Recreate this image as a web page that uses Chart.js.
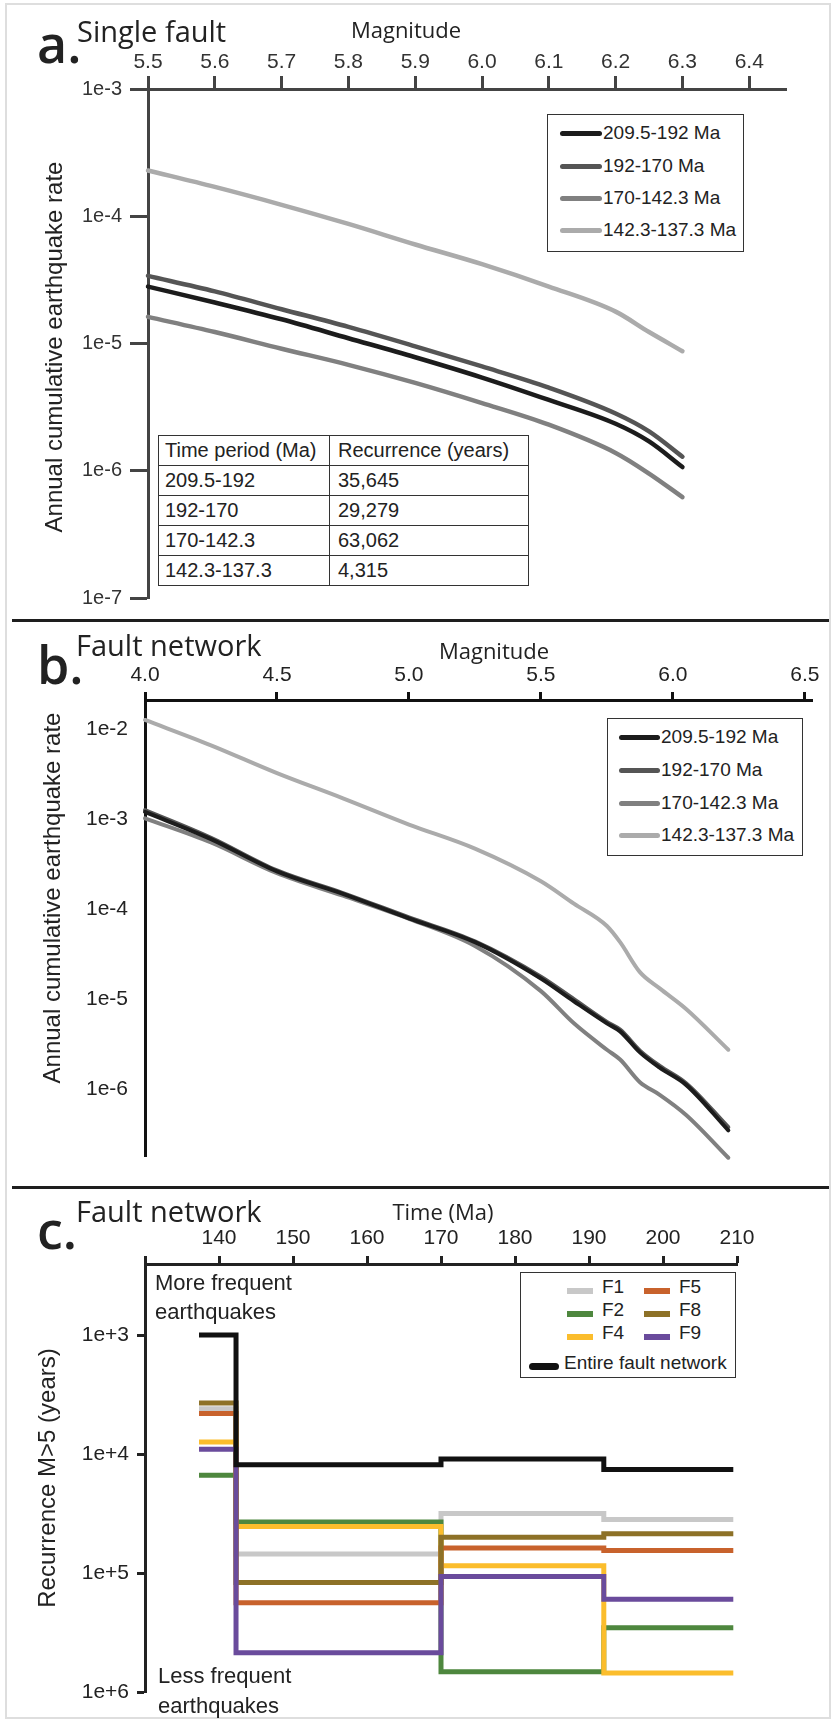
<!DOCTYPE html>
<html>
<head>
<meta charset="utf-8">
<script src="https://cdn.jsdelivr.net/npm/chart.js@4.4.1/dist/chart.umd.min.js"></script>
<style>
  body { margin: 0; background: #fff; }
  #page { position: relative; width: 833px; height: 1721px; overflow: hidden; background: #fff;
          font-family: "Liberation Sans", Arial, sans-serif; color: #222; }
  canvas { position: absolute; left: 0; }
  .frame { position: absolute; left: 5px; top: 3px; width: 826px; height: 1716px; border: 2px solid #dedede; box-sizing: border-box; }
  .sep { position: absolute; left: 12px; width: 817px; height: 3px; background: #1e1e1e; }
  .legend { position: absolute; border: 1.5px solid #333; background: #fff; box-sizing: border-box; }
  .item { position: absolute; display: flex; align-items: center; font-size: 19px; white-space: nowrap; height: 24px; }
  .item .ln { height: 5px; border-radius: 3px; margin-right: 1px; }
  .sw { position: absolute; height: 6px; }
  .lbl { position: absolute; font-size: 19px; line-height: 24px; white-space: nowrap; }
  table.rec { position: absolute; left: 158px; top: 435px; border-collapse: collapse; background: #fff; font-size: 20px; }
  table.rec td { border: 1.5px solid #333; height: 29px; padding: 0 6px 0 6px; white-space: nowrap; }
  table.rec td:first-child { width: 158px; }
  table.rec td:last-child { width: 184px; padding-left: 8px; }
</style>
</head>
<body>
<div id="page">
  <div class="frame"></div>
  <canvas id="chartA" width="833" height="619" style="top:0"></canvas>
  <div class="sep" style="top:619px"></div>
  <canvas id="chartB" width="833" height="564" style="top:622px"></canvas>
  <div class="sep" style="top:1186px"></div>
  <canvas id="chartC" width="833" height="532" style="top:1189px"></canvas>

  <div id="legendA" class="legend" style="left:547px; top:114px; width:197px; height:138px"></div>
  <div id="legendB" class="legend" style="left:607px; top:718px; width:196px; height:138px"></div>
  <div id="legendC" class="legend" style="left:520px; top:1272px; width:216px; height:106px"></div>
  <table class="rec" id="tableA"></table>
</div>
<script>
// ---------- panel a: single fault ----------
const magA = [5.5, 5.6, 5.7, 5.8, 5.9, 6.0, 6.1, 6.2, 6.25, 6.3];
const magTicksA = [5.5, 5.6, 5.7, 5.8, 5.9, 6.0, 6.1, 6.2, 6.3, 6.4];
const rateTicksA = [1e-7, 1e-6, 1e-5, 1e-4, 1e-3];
const rateTickLabelsA = ['1e-7', '1e-6', '1e-5', '1e-4', '1e-3'];
const rateA_209_192 = [2.8e-5, 2.1e-5, 1.55e-5, 1.1e-5, 7.8e-6, 5.4e-6, 3.6e-6, 2.34e-6, 1.7e-6, 1.07e-6];
const rateA_192_170 = [3.4e-5, 2.57e-5, 1.86e-5, 1.35e-5, 9.5e-6, 6.6e-6, 4.5e-6, 2.82e-6, 2.04e-6, 1.29e-6];
const rateA_170_142 = [1.62e-5, 1.23e-5, 9.1e-6, 6.8e-6, 4.9e-6, 3.4e-6, 2.3e-6, 1.38e-6, 9.5e-7, 6.2e-7];
const rateA_142_137 = [2.29e-4, 1.7e-4, 1.23e-4, 8.7e-5, 6.0e-5, 4.2e-5, 2.8e-5, 1.78e-5, 1.23e-5, 8.7e-6];
const tablePeriods = ['209.5-192', '192-170', '170-142.3', '142.3-137.3'];
const tableRecurrence = ['35,645', '29,279', '63,062', '4,315'];

// ---------- panel b: fault network ----------
const magB = [4.0, 4.25, 4.5, 4.75, 5.0, 5.25, 5.5, 5.625, 5.75, 5.8, 5.875, 5.95, 6.05, 6.21];
const magTicksB = [4.0, 4.5, 5.0, 5.5, 6.0, 6.5];
const rateTicksB = [1e-6, 1e-5, 1e-4, 1e-3, 1e-2];
const rateTickLabelsB = ['1e-6', '1e-5', '1e-4', '1e-3', '1e-2'];
const rateB_209_192 = [1.2e-3, 6.0e-4, 2.63e-4, 1.48e-4, 7.9e-5, 4.3e-5, 1.7e-5, 9.5e-6, 5.4e-6, 4.4e-6, 2.57e-6, 1.74e-6, 1.12e-6, 3.5e-7];
const rateB_192_170 = [1.26e-3, 6.2e-4, 2.69e-4, 1.51e-4, 8.1e-5, 4.4e-5, 1.78e-5, 1.0e-5, 5.6e-6, 4.6e-6, 2.69e-6, 1.82e-6, 1.17e-6, 3.8e-7];
const rateB_170_142 = [1.02e-3, 5.5e-4, 2.51e-4, 1.41e-4, 7.8e-5, 3.9e-5, 1.23e-5, 5.4e-6, 2.75e-6, 2.14e-6, 1.2e-6, 8.7e-7, 5.2e-7, 1.74e-7];
const rateB_142_137 = [1.26e-2, 6.6e-3, 3.24e-3, 1.7e-3, 8.7e-4, 4.7e-4, 2.04e-4, 1.15e-4, 6.5e-5, 4.3e-5, 2.0e-5, 1.32e-5, 7.8e-6, 2.75e-6];

const periodLabels = ['209.5-192 Ma', '192-170 Ma', '170-142.3 Ma', '142.3-137.3 Ma'];
const periodColors = ['#1c1c1c', '#555555', '#808080', '#ababab'];

// ---------- panel c: recurrence through time ----------
const timeEdges = [137.3, 142.3, 170, 192, 209.5];
const timeTicks = [130, 140, 150, 160, 170, 180, 190, 200, 210];
const timeTickLabels = ['', '140', '150', '160', '170', '180', '190', '200', '210'];
const recTicks = [1e3, 1e4, 1e5, 1e6];
const recTickLabels = ['1e+3', '1e+4', '1e+5', '1e+6'];
const recAll = [1000, 12300, 11000, 13500];
const recF1 = [4170, 69200, 31600, 35500];
const recF2 = [15100, 37200, 676000, 288000];
const recF4 = [7940, 40700, 87100, 692000];
const recF5 = [4570, 178000, 61700, 64600];
const recF8 = [3720, 120000, 50100, 46800];
const recF9 = [9120, 468000, 107000, 166000];

Chart.defaults.font.family = '"Liberation Sans", Arial, sans-serif';
Chart.defaults.color = '#222';

function textPlugin(items) {
  return {
    id: 'panelText',
    afterDraw(chart) {
      const ctx = chart.ctx;
      items.forEach(it => {
        ctx.save();
        ctx.font = it.font;
        ctx.fillStyle = it.color || '#222';
        ctx.textAlign = it.align || 'left';
        ctx.textBaseline = it.baseline || 'alphabetic';
        ctx.translate(it.x, it.y);
        if (it.rotate) ctx.rotate(it.rotate);
        ctx.fillText(it.text, 0, 0);
        ctx.restore();
      });
    }
  };
}

function curves(xs, series) {
  return series.map((vals, i) => ({
    label: periodLabels[i],
    data: vals.map((v, k) => ({ x: xs[k], y: v })),
    borderColor: periodColors[i],
    borderWidth: 4.5,
    borderCapStyle: 'round',
    pointRadius: 0,
    cubicInterpolationMode: 'monotone',
    clip: false
  }));
}

const TITLE = '"Open Sans", "Noto Sans", sans-serif';
const BODY = '"Liberation Sans", Arial, sans-serif';

// panel a
new Chart(document.getElementById('chartA'), {
  type: 'line',
  data: { datasets: curves(magA, [rateA_209_192, rateA_192_170, rateA_170_142, rateA_142_137]) },
  options: {
    responsive: false, animation: false, devicePixelRatio: 1,
    layout: { padding: { left: 0, top: 0, right: 47, bottom: 21 } },
    plugins: { legend: { display: false }, tooltip: { enabled: false } },
    scales: {
      x: {
        type: 'linear', position: 'top', min: 5.5, max: 6.455,
        afterBuildTicks: s => { s.ticks = magTicksA.map(v => ({ value: v })); },
        afterFit: s => { s.height = 89; },
        ticks: { callback: v => v.toFixed(1), padding: 1, color: '#333', font: { size: 21 }, autoSkip: false, maxRotation: 0 },
        grid: { drawOnChartArea: false, tickLength: 13, tickWidth: 3, tickColor: '#444' },
        border: { width: 3, color: '#444' }
      },
      y: {
        type: 'logarithmic', min: 1e-7, max: 1e-3,
        afterBuildTicks: s => { s.ticks = rateTicksA.map(v => ({ value: v })); },
        afterFit: s => { s.width = 148; },
        ticks: { callback: v => rateTickLabelsA[rateTicksA.indexOf(v)], padding: 8, color: '#333', font: { size: 20 }, autoSkip: false },
        grid: { drawOnChartArea: false, tickLength: 18, tickWidth: 3, tickColor: '#444' },
        border: { width: 3, color: '#444' }
      }
    }
  },
  plugins: [textPlugin([
    { text: 'a.', x: 37, y: 63, font: '600 52px ' + TITLE },
    { text: 'Single fault', x: 77, y: 42, font: '29px ' + TITLE },
    { text: 'Magnitude', x: 406, y: 38, font: '22px ' + TITLE, align: 'center' },
    { text: 'Annual cumulative earthquake rate', x: 55, y: 347, font: '24px ' + BODY, align: 'center', baseline: 'middle', rotate: -Math.PI / 2 }
  ])]
});

// panel b
new Chart(document.getElementById('chartB'), {
  type: 'line',
  data: { datasets: curves(magB, [rateB_209_192, rateB_192_170, rateB_170_142, rateB_142_137]).map(d => ({ ...d, borderWidth: 4 })) },
  options: {
    responsive: false, animation: false, devicePixelRatio: 1,
    layout: { padding: { left: 0, top: 0, right: 21, bottom: 16 } },
    plugins: { legend: { display: false }, tooltip: { enabled: false } },
    scales: {
      x: {
        type: 'linear', position: 'top', min: 4.0, max: 6.527,
        afterBuildTicks: s => { s.ticks = magTicksB.map(v => ({ value: v })); },
        afterFit: s => { s.height = 78; },
        ticks: { callback: v => v.toFixed(1), padding: 4, color: '#222', font: { size: 21 }, autoSkip: false, maxRotation: 0 },
        grid: { drawOnChartArea: false, tickLength: 8, tickWidth: 3, tickColor: '#111' },
        border: { width: 3, color: '#111' }
      },
      y: {
        type: 'logarithmic', min: 1.8e-7, max: 2.1e-2,
        afterBuildTicks: s => { s.ticks = rateTicksB.map(v => ({ value: v })); },
        afterFit: s => { s.width = 145; },
        ticks: { callback: v => rateTickLabelsB[rateTicksB.indexOf(v)], padding: 17, color: '#222', font: { size: 21 }, autoSkip: false },
        grid: { drawOnChartArea: false, drawTicks: false },
        border: { width: 3, color: '#111' }
      }
    }
  },
  plugins: [textPlugin([
    { text: 'b.', x: 37, y: 62, font: '600 52px ' + TITLE },
    { text: 'Fault network', x: 76, y: 34, font: '29px ' + TITLE },
    { text: 'Magnitude', x: 494, y: 37, font: '22px ' + TITLE, align: 'center' },
    { text: 'Annual cumulative earthquake rate', x: 53, y: 276, font: '24px ' + BODY, align: 'center', baseline: 'middle', rotate: -Math.PI / 2 }
  ])]
});

// panel c
function steps(vals) {
  const pts = vals.map((v, k) => ({ x: timeEdges[k], y: v }));
  pts.push({ x: timeEdges[timeEdges.length - 1], y: vals[vals.length - 1] });
  return pts;
}
const faultSeries = [
  { label: 'Entire fault network', vals: recAll, color: '#111111' },
  { label: 'F9', vals: recF9, color: '#6a4b9c' },
  { label: 'F8', vals: recF8, color: '#8d7127' },
  { label: 'F5', vals: recF5, color: '#c8622c' },
  { label: 'F4', vals: recF4, color: '#fbbd2c' },
  { label: 'F2', vals: recF2, color: '#4e873e' },
  { label: 'F1', vals: recF1, color: '#c8c8c8' }
];

new Chart(document.getElementById('chartC'), {
  type: 'line',
  data: {
    datasets: faultSeries.map(s => ({
      label: s.label,
      data: steps(s.vals),
      borderColor: s.color,
      borderWidth: 5,
      stepped: true,
      pointRadius: 0,
      borderCapStyle: 'butt',
      borderJoinStyle: 'miter',
      clip: false
    }))
  },
  options: {
    responsive: false, animation: false, devicePixelRatio: 1,
    layout: { padding: { left: 0, top: 0, right: 96, bottom: 29 } },
    plugins: { legend: { display: false }, tooltip: { enabled: false } },
    scales: {
      x: {
        type: 'linear', position: 'top', min: 130, max: 210,
        afterBuildTicks: s => { s.ticks = timeTicks.map(v => ({ value: v })); },
        afterFit: s => { s.height = 75; },
        ticks: { callback: v => timeTickLabels[timeTicks.indexOf(v)], padding: 5, color: '#222', font: { size: 21 }, autoSkip: false, maxRotation: 0 },
        grid: { drawOnChartArea: false, tickLength: 8, tickWidth: 3, tickColor: '#222' },
        border: { width: 3, color: '#222' }
      },
      y: {
        type: 'logarithmic', reverse: true, min: 253, max: 1e6,
        afterBuildTicks: s => { s.ticks = recTicks.map(v => ({ value: v })); },
        afterFit: s => { s.width = 145; },
        ticks: { callback: v => recTickLabels[recTicks.indexOf(v)], padding: 8, color: '#222', font: { size: 21 }, autoSkip: false },
        grid: { drawOnChartArea: false, tickLength: 8, tickWidth: 3, tickColor: '#222' },
        border: { width: 3, color: '#222' }
      }
    }
  },
  plugins: [textPlugin([
    { text: 'c.', x: 37, y: 60, font: '600 52px ' + TITLE },
    { text: 'Fault network', x: 76, y: 33, font: '29px ' + TITLE },
    { text: 'Time (Ma)', x: 443, y: 31, font: '22px ' + TITLE, align: 'center' },
    { text: 'Recurrence M>5 (years)', x: 48, y: 289, font: '24px ' + BODY, align: 'center', baseline: 'middle', rotate: -Math.PI / 2 },
    { text: 'More frequent', x: 155, y: 95, font: '22px ' + BODY, baseline: 'middle' },
    { text: 'earthquakes', x: 155, y: 124, font: '22px ' + BODY, baseline: 'middle' },
    { text: 'Less frequent', x: 158, y: 488, font: '22px ' + BODY, baseline: 'middle' },
    { text: 'earthquakes', x: 158, y: 518, font: '22px ' + BODY, baseline: 'middle' }
  ])]
});

// ---------- html legends and table ----------
function periodLegend(id, rows, lineX, lineW) {
  const box = document.getElementById(id);
  periodLabels.forEach((lab, i) => {
    const it = document.createElement('div');
    it.className = 'item';
    it.style.left = lineX + 'px';
    it.style.top = (rows[i] - 12) + 'px';
    it.innerHTML = '<span class="ln" style="width:' + lineW + 'px;background:' + periodColors[i] + '"></span>' + lab;
    box.appendChild(it);
  });
}
periodLegend('legendA', [18, 51, 83, 115], 12, 42);
periodLegend('legendB', [18, 51, 84, 116], 11, 41);

const legendC = document.getElementById('legendC');
const cItems = [
  { label: 'F1', color: '#c8c8c8', sx: 46, tx: 81, row: 0 },
  { label: 'F2', color: '#4e873e', sx: 46, tx: 81, row: 1 },
  { label: 'F4', color: '#fbbd2c', sx: 46, tx: 81, row: 2 },
  { label: 'F5', color: '#c8622c', sx: 123, tx: 158, row: 0 },
  { label: 'F8', color: '#8d7127', sx: 123, tx: 158, row: 1 },
  { label: 'F9', color: '#6a4b9c', sx: 123, tx: 158, row: 2 }
];
const cRows = [14, 37, 60];
cItems.forEach(c => {
  const sw = document.createElement('div');
  sw.className = 'sw';
  sw.style.cssText = 'left:' + c.sx + 'px;top:' + (cRows[c.row] + 1) + 'px;width:26px;background:' + c.color;
  legendC.appendChild(sw);
  const t = document.createElement('div');
  t.className = 'lbl';
  t.style.cssText = 'left:' + c.tx + 'px;top:' + (cRows[c.row] - 12) + 'px';
  t.textContent = c.label;
  legendC.appendChild(t);
});
const swAll = document.createElement('div');
swAll.className = 'sw';
swAll.style.cssText = 'left:8px;top:90px;width:30px;height:7px;border-radius:4px;background:#111';
legendC.appendChild(swAll);
const tAll = document.createElement('div');
tAll.className = 'lbl';
tAll.style.cssText = 'left:43px;top:78px';
tAll.textContent = 'Entire fault network';
legendC.appendChild(tAll);

const table = document.getElementById('tableA');
let html = '<tr><td>Time period (Ma)</td><td>Recurrence (years)</td></tr>';
tablePeriods.forEach((p, i) => { html += '<tr><td>' + p + '</td><td>' + tableRecurrence[i] + '</td></tr>'; });
table.innerHTML = html;
</script>
</body>
</html>
